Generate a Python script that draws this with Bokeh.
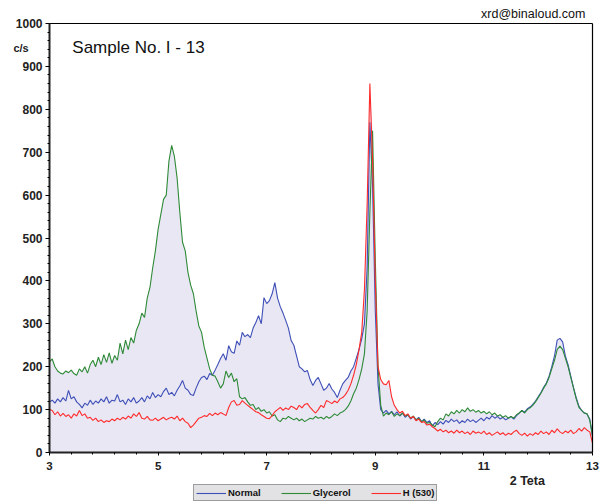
import numpy as np
from bokeh.plotting import figure
from bokeh.models import Range1d, FixedTicker, Label, Legend, LegendItem, LinearAxis
from bokeh.embed import file_html
from bokeh.resources import INLINE

# 2-theta grid: 3.00 .. 13.00 step 0.05
two_theta = [round(3 + 0.05 * i, 2) for i in range(201)]

glycerol = [
    212, 218, 200, 190, 185, 183, 190, 186, 192, 184,
    180, 195, 188, 200, 185, 205, 215, 200, 222, 205,
    228, 210, 232, 208, 226, 215, 255, 230, 262, 240,
    268, 255, 285, 300, 325, 315, 360, 385, 430, 470,
    520, 555, 590, 600, 680, 716, 690, 640, 560, 490,
    470, 420, 390, 370, 330, 295, 280, 245, 220, 195,
    180, 178, 165, 150, 160, 190, 175, 185, 165, 172,
    130, 125, 128, 118, 110, 112, 100, 105, 96, 100,
    92, 95, 85, 88, 76, 72, 80, 78, 84, 80,
    76, 80, 74, 78, 72, 76, 80, 78, 84, 80,
    82, 78, 84, 80, 84, 90, 86, 92, 95, 100,
    108, 120, 137, 150, 170, 195, 230, 330, 560, 750,
    450, 200, 110, 85, 92, 88, 95, 84, 90, 86,
    92, 85, 88, 80, 85, 76, 80, 72, 76, 68,
    70, 64, 60, 72, 80, 76, 90, 85, 95, 90,
    98, 92, 100, 95, 104, 96, 100, 94, 98, 92,
    96, 90, 95, 88, 92, 85, 88, 82, 86, 80,
    84, 80, 88, 92, 98, 92, 100, 104, 110, 118,
    128, 138, 150, 160, 175, 195, 215, 240, 248, 240,
    220, 200, 175, 150, 125, 105, 98, 92, 90, 75,
    40,
]

normal = [
    118, 122, 115, 125, 118, 128, 120, 145, 125, 130,
    118, 112, 104, 115, 110, 122, 112, 120, 115, 125,
    118, 130, 115, 122, 120, 135, 118, 122, 112, 125,
    118, 128, 115, 120, 128, 118, 132, 125, 140, 128,
    135, 130, 142, 150, 135, 140, 132, 145, 155, 168,
    150, 145, 135, 133, 150, 165, 175, 178, 170, 184,
    180, 192, 205, 219, 230, 215, 249, 235, 231, 260,
    250, 280, 270, 275, 268, 290, 303, 319, 300, 361,
    347, 354, 370, 396, 360, 340, 325, 308, 290, 261,
    250, 225, 200, 195, 188, 191, 170, 156, 168, 175,
    160, 145, 150, 161, 148, 140, 128, 145, 160, 168,
    175, 190, 200, 220, 240, 265, 300, 430, 770, 620,
    330, 160, 100, 92, 98, 90, 96, 88, 95, 85,
    92, 82, 88, 78, 84, 76, 82, 72, 78, 70,
    74, 62, 70, 65, 72, 66, 75, 70, 78, 72,
    76, 68, 74, 70, 78, 72, 76, 70, 75, 80,
    74, 82, 78, 86, 80, 84, 78, 82, 76, 80,
    84, 78, 86, 92, 98, 94, 102, 106, 112, 120,
    130, 140, 152, 162, 178, 200, 225, 262, 266, 258,
    225, 205, 178, 152, 128, 108, 98, 92, 90, 78,
    38,
]

h530 = [
    100, 98, 88, 95, 85, 91, 84, 88, 80, 90,
    85, 98, 86, 90, 80, 82, 75, 80, 72, 76,
    70, 74, 72, 78, 74, 80, 76, 82, 78, 85,
    80, 90, 84, 93, 80, 78, 84, 76, 75, 80,
    74, 78, 82, 76, 80, 82, 78, 85, 74, 80,
    72, 68, 58, 64, 72, 80, 82, 86, 84, 91,
    86, 92, 88, 93, 90, 86, 105, 118, 121, 110,
    112, 121, 115, 110, 105, 100, 95, 93, 88, 84,
    80, 79, 86, 95, 100, 105, 98, 104, 100, 108,
    105, 100, 110, 104, 112, 114, 105, 98, 92, 100,
    110, 105, 121, 118, 114, 120, 116, 125, 128, 135,
    145, 160, 180, 205, 240, 280, 380, 580, 860, 680,
    400, 200, 170, 160, 158, 168, 130, 110, 100, 92,
    96, 86, 90, 80, 84, 74, 78, 70, 72, 64,
    66, 60, 56, 50, 54, 48, 52, 46, 50, 45,
    52, 46, 50, 44, 48, 42, 50, 45, 48, 44,
    50, 42, 46, 40, 44, 48, 42, 46, 40, 45,
    42, 48, 52, 44, 40, 45, 38, 44, 40, 46,
    42, 50, 44, 48, 42, 52, 46, 55, 48, 44,
    50, 46, 52, 44, 48, 56, 50, 58, 52, 48,
    22,
]

series_names = ["Normal", "Glycerol", "H (530)"]
series_colors = ["#3f4fb8", "#2f8a38", "#ff2a2a"]
x_tick_labels = [3, 5, 7, 9, 11, 13]
y_tick_labels = list(range(0, 1001, 100))

FONT = "Liberation Sans"

# frame covers the whole canvas: 54.3 px per 2-theta unit, 0.429 px per count
X0, X1 = 3 - 49 / 54.3, 13 + 9 / 54.3
Y0, Y1 = -51 / 0.429, 1000 + 23 / 0.429

p = figure(width=601, height=503, output_backend="svg", toolbar_location=None,
           x_range=Range1d(X0, X1), y_range=Range1d(Y0, Y1),
           x_axis_location=None, y_axis_location=None, min_border=0)
p.background_fill_color = "white"
p.border_fill_color = "white"
p.outline_line_color = None
p.grid.visible = False

env = np.maximum(np.maximum(np.array(glycerol), np.array(normal)), np.array(h530))
p.varea(x=two_theta, y1=0, y2=env, fill_color="#e8e7f3", fill_alpha=1.0)

renderers = [p.line(two_theta, ys, line_color=c, line_width=1.1)
             for ys, c in zip([normal, glycerol, h530], series_colors)]

# axes
xa = LinearAxis(fixed_location=0, bounds=(3, 13),
                ticker=FixedTicker(ticks=x_tick_labels,
                                   minor_ticks=[round(3 + 0.4 * i, 2) for i in range(26)]))
xa.axis_line_width = 2
xa.axis_line_color = "#222222"
xa.major_tick_out = 3
xa.major_tick_in = 0
xa.minor_tick_out = 2
xa.minor_tick_in = 0
xa.major_label_text_font = FONT
xa.major_label_text_font_style = "bold"
xa.major_label_text_font_size = "11.5px"
xa.major_label_text_color = "#222222"
xa.major_label_standoff = 6
p.add_layout(xa, "below")

ya = LinearAxis(fixed_location=3, bounds=(0, 1000),
                ticker=FixedTicker(ticks=y_tick_labels, minor_ticks=list(range(0, 1001, 20))))
ya.axis_line_width = 2
ya.axis_line_color = "#222222"
ya.major_tick_out = 4
ya.major_tick_in = 0
ya.minor_tick_out = 2
ya.minor_tick_in = 0
ya.major_label_text_font = FONT
ya.major_label_text_font_style = "bold"
ya.major_label_text_font_size = "12px"
ya.major_label_text_color = "#222222"
ya.major_label_standoff = 3
p.add_layout(ya, "left")

# top and right frame borders
xt = LinearAxis(fixed_location=1000, bounds=(3, 13), ticker=FixedTicker(ticks=[]),
                axis_line_color="black", axis_line_width=1.2,
                major_tick_out=0, minor_tick_out=0, major_label_text_font_size="0px")
p.add_layout(xt, "above")
yr = LinearAxis(fixed_location=13, bounds=(0, 1000), ticker=FixedTicker(ticks=[]),
                axis_line_color="black", axis_line_width=1.2,
                major_tick_out=0, minor_tick_out=0, major_label_text_font_size="0px")
p.add_layout(yr, "right")

# texts
p.add_layout(Label(x=3.42, y=944, text="Sample No. I - 13", text_font=FONT,
                   text_font_size="17px", text_baseline="middle", text_color="#111111"))
p.add_layout(Label(x=12.87, y=1023, text="xrd@binaloud.com", text_font=FONT,
                   text_font_size="12.5px", text_baseline="middle", text_align="right",
                   text_color="#111111"))
p.add_layout(Label(x=2.335, y=944, text="c/s", text_font=FONT, text_font_style="bold",
                   text_font_size="11px", text_baseline="middle", text_color="#222222"))
p.add_layout(Label(x=11.8, y=-67, text="2 Teta", text_font=FONT, text_font_style="bold",
                   text_font_size="12.5px", text_baseline="middle", text_align="center",
                   text_color="#222222"))

legend = Legend(items=[LegendItem(label=n, renderers=[r])
                       for n, r in zip(series_names, renderers)],
                orientation="horizontal", location=(193, 2),
                label_text_font=FONT, label_text_font_style="bold",
                label_text_font_size="9.5px", label_text_color="#111111",
                glyph_width=30, glyph_height=10, label_standoff=2, spacing=20,
                padding=2, margin=0, background_fill_color="#e2e2e4",
                background_fill_alpha=1.0, border_line_color="#555555",
                border_line_width=1, label_height=10)
p.add_layout(legend, "center")

open("out.html", "w").write(file_html(p, INLINE))
